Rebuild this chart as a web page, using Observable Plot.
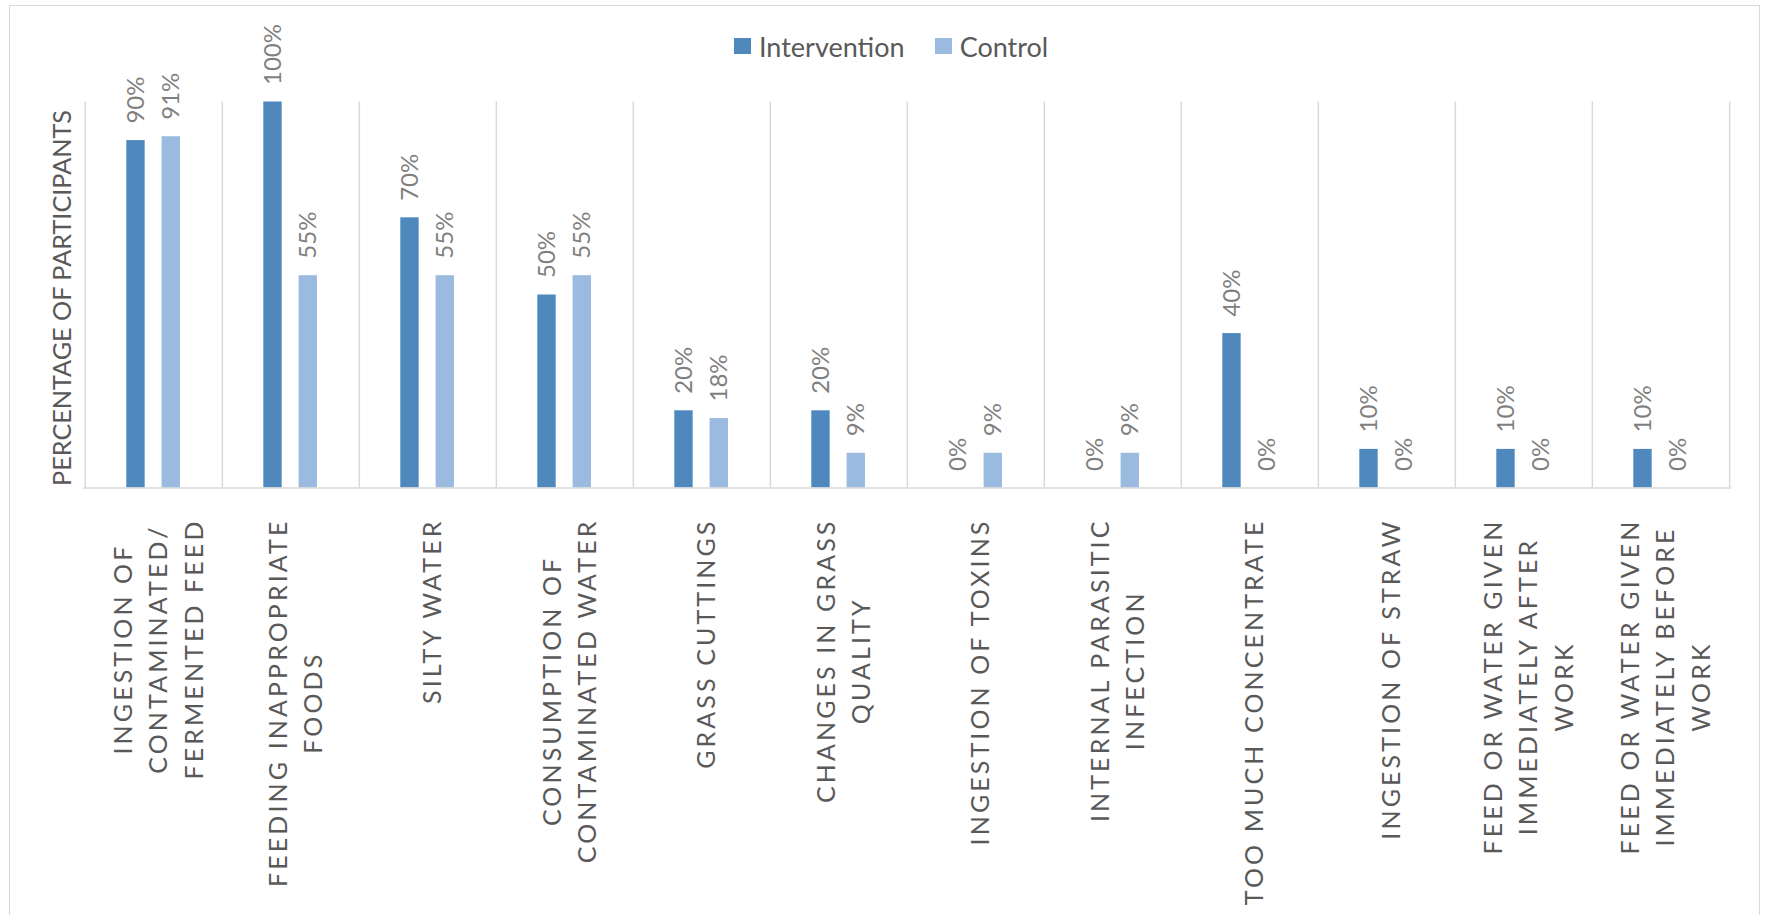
<!DOCTYPE html>
<html>
<head>
<meta charset="utf-8">
<script src="https://cdn.jsdelivr.net/npm/d3@7"></script>
<script src="https://cdn.jsdelivr.net/npm/@observablehq/plot@0.6"></script>
<style>
  html, body { margin: 0; padding: 0; background: #fff; overflow: hidden; }
  #wrap { position: relative; width: 1765px; height: 915px; font-family: Lato, "Open Sans", sans-serif; }
  #border { position: absolute; left: 9px; top: 5px; width: 1751px; height: 1000px; border: 1px solid #d9d9d9; box-sizing: border-box; pointer-events: none; }
  #legend { position: absolute; left: 734px; top: 29px; height: 34px; display: flex; align-items: center; font-size: 27px; color: #595959; }
  .item { display: flex; align-items: center; margin-right: 30px; }
  .sw { width: 17px; height: 16px; margin-right: 8px; }
  #chart { position: absolute; left: 0; top: 0; }
</style>
</head>
<body>
<div id="wrap">
  <div id="chart"></div>
  <div id="legend"></div>
  <div id="border"></div>
</div>
<script>
// ---- data ----
const categories = [
  "INGESTION OF\nCONTAMINATED/\nFERMENTED FEED",
  "FEEDING INAPPROPRIATE\nFOODS",
  "SILTY WATER",
  "CONSUMPTION OF\nCONTAMINATED WATER",
  "GRASS CUTTINGS",
  "CHANGES IN GRASS\nQUALITY",
  "INGESTION OF TOXINS",
  "INTERNAL PARASITIC\nINFECTION",
  "TOO MUCH CONCENTRATE",
  "INGESTION OF STRAW",
  "FEED OR WATER GIVEN\nIMMEDIATELY AFTER\nWORK",
  "FEED OR WATER GIVEN\nIMMEDIATELY BEFORE\nWORK"
];
const seriesNames = ["Intervention", "Control"];
const interventionValues = [0.90, 1.00, 0.70, 0.50, 0.20, 0.20, 0.00, 0.00, 0.40, 0.10, 0.10, 0.10];
const controlValues      = [0.91, 0.55, 0.55, 0.55, 0.18, 0.09, 0.09, 0.09, 0.00, 0.00, 0.00, 0.00];
const axisTitle = "PERCENTAGE OF PARTICIPANTS";

// ---- styling ----
const colors = {Intervention: "#4f88bc", Control: "#9abadf"};
const catColor = "#595959";
const W = 1765, H = 915;
const mL = 83, mR = 34, mT = 101.5, mB = 427.5;
const bw = (W - mL - mR) / categories.length;
const catFont = 25, catLS = 3.1, catTop = 518;

const interventionRows = categories.map((c, i) => ({category: c, value: interventionValues[i]}));
const controlRows = categories.map((c, i) => ({category: c, value: controlValues[i]}));
const pct = d => Math.round(d.value * 100) + "%";

// measure a text line as rendered (with letter spacing)
function measure(text, size, ls) {
  const s = d3.select("body").append("svg").attr("width", 10).attr("height", 10)
    .style("position", "absolute").style("left", "0").style("top", "0");
  const t = s.append("text").attr("font-family", "Lato").attr("font-size", size)
    .style("letter-spacing", ls + "px").text(text);
  const w = t.node().getComputedTextLength();
  s.remove();
  return w;
}

const catLabelMarks = categories.map(c => {
  const L = d3.max(c.split("\n"), line => measure(line, catFont, catLS));
  return Plot.text([c], {
    x: d => d, text: d => d, frameAnchor: "bottom",
    dy: catTop + L / 2 - (H - mB), dx: 2,
    rotate: -90, textAnchor: "middle", lineAnchor: "middle", lineHeight: 1.42,
    fontSize: catFont, fill: catColor, ariaLabel: "category-label"
  });
});

const chart = Plot.plot({
  width: W, height: H,
  marginLeft: mL, marginRight: mR, marginTop: mT, marginBottom: mB,
  style: {fontFamily: "Lato, 'Open Sans', sans-serif", background: "transparent", overflow: "visible"},
  x: {type: "band", domain: categories, padding: 0, axis: null},
  y: {domain: [0, 1], axis: null},
  marks: [
    Plot.ruleX(categories, {x: d => d, dx: -bw / 2, y1: 0, y2: 1, stroke: "#d9d9d9", strokeWidth: 1.5}),
    Plot.ruleX([categories[categories.length - 1]], {x: d => d, dx: bw / 2, y1: 0, y2: 1, stroke: "#d9d9d9", strokeWidth: 1.5}),
    Plot.barY(interventionRows, {x: "category", y: "value", fill: colors.Intervention,
      insetLeft: 41.3, insetRight: bw - 60}),
    Plot.barY(controlRows, {x: "category", y: "value", fill: colors.Control,
      insetLeft: 76.6, insetRight: bw - 95.3}),
    Plot.ruleY([0], {stroke: "#d9d9d9", strokeWidth: 1.5}),
    Plot.text(interventionRows, {x: "category", y: "value", text: pct, rotate: -90,
      textAnchor: "start", dy: -17, dx: 50.65 - bw / 2, fontSize: 24, fill: "#7f7f7f"}),
    Plot.text(controlRows, {x: "category", y: "value", text: pct, rotate: -90,
      textAnchor: "start", dy: -17, dx: 85.95 - bw / 2, fontSize: 24, fill: "#7f7f7f"}),
    ...catLabelMarks,
    Plot.text([axisTitle], {frameAnchor: "left", text: d => d, dx: -21, dy: 3, rotate: -90,
      textAnchor: "middle", fontSize: 25.2, fill: "#595959"})
  ]
});
document.getElementById("chart").appendChild(chart);
// apply letter spacing to the category labels
d3.select(chart).selectAll("text").filter(function() {
  const g = this.closest("g");
  return g && (g.getAttribute("aria-label") === "category-label" || g.getAttribute("font-size") == catFont);
}).style("letter-spacing", catLS + "px");
d3.select(chart).selectAll("g").filter(function() {
  return this.getAttribute("aria-label") === "category-label";
}).style("letter-spacing", catLS + "px");

// legend
const legend = d3.select("#legend");
seriesNames.forEach(name => {
  const it = legend.append("div").attr("class", "item");
  it.append("div").attr("class", "sw").style("background", colors[name]);
  it.append("span").text(name);
});
</script>
</body>
</html>
